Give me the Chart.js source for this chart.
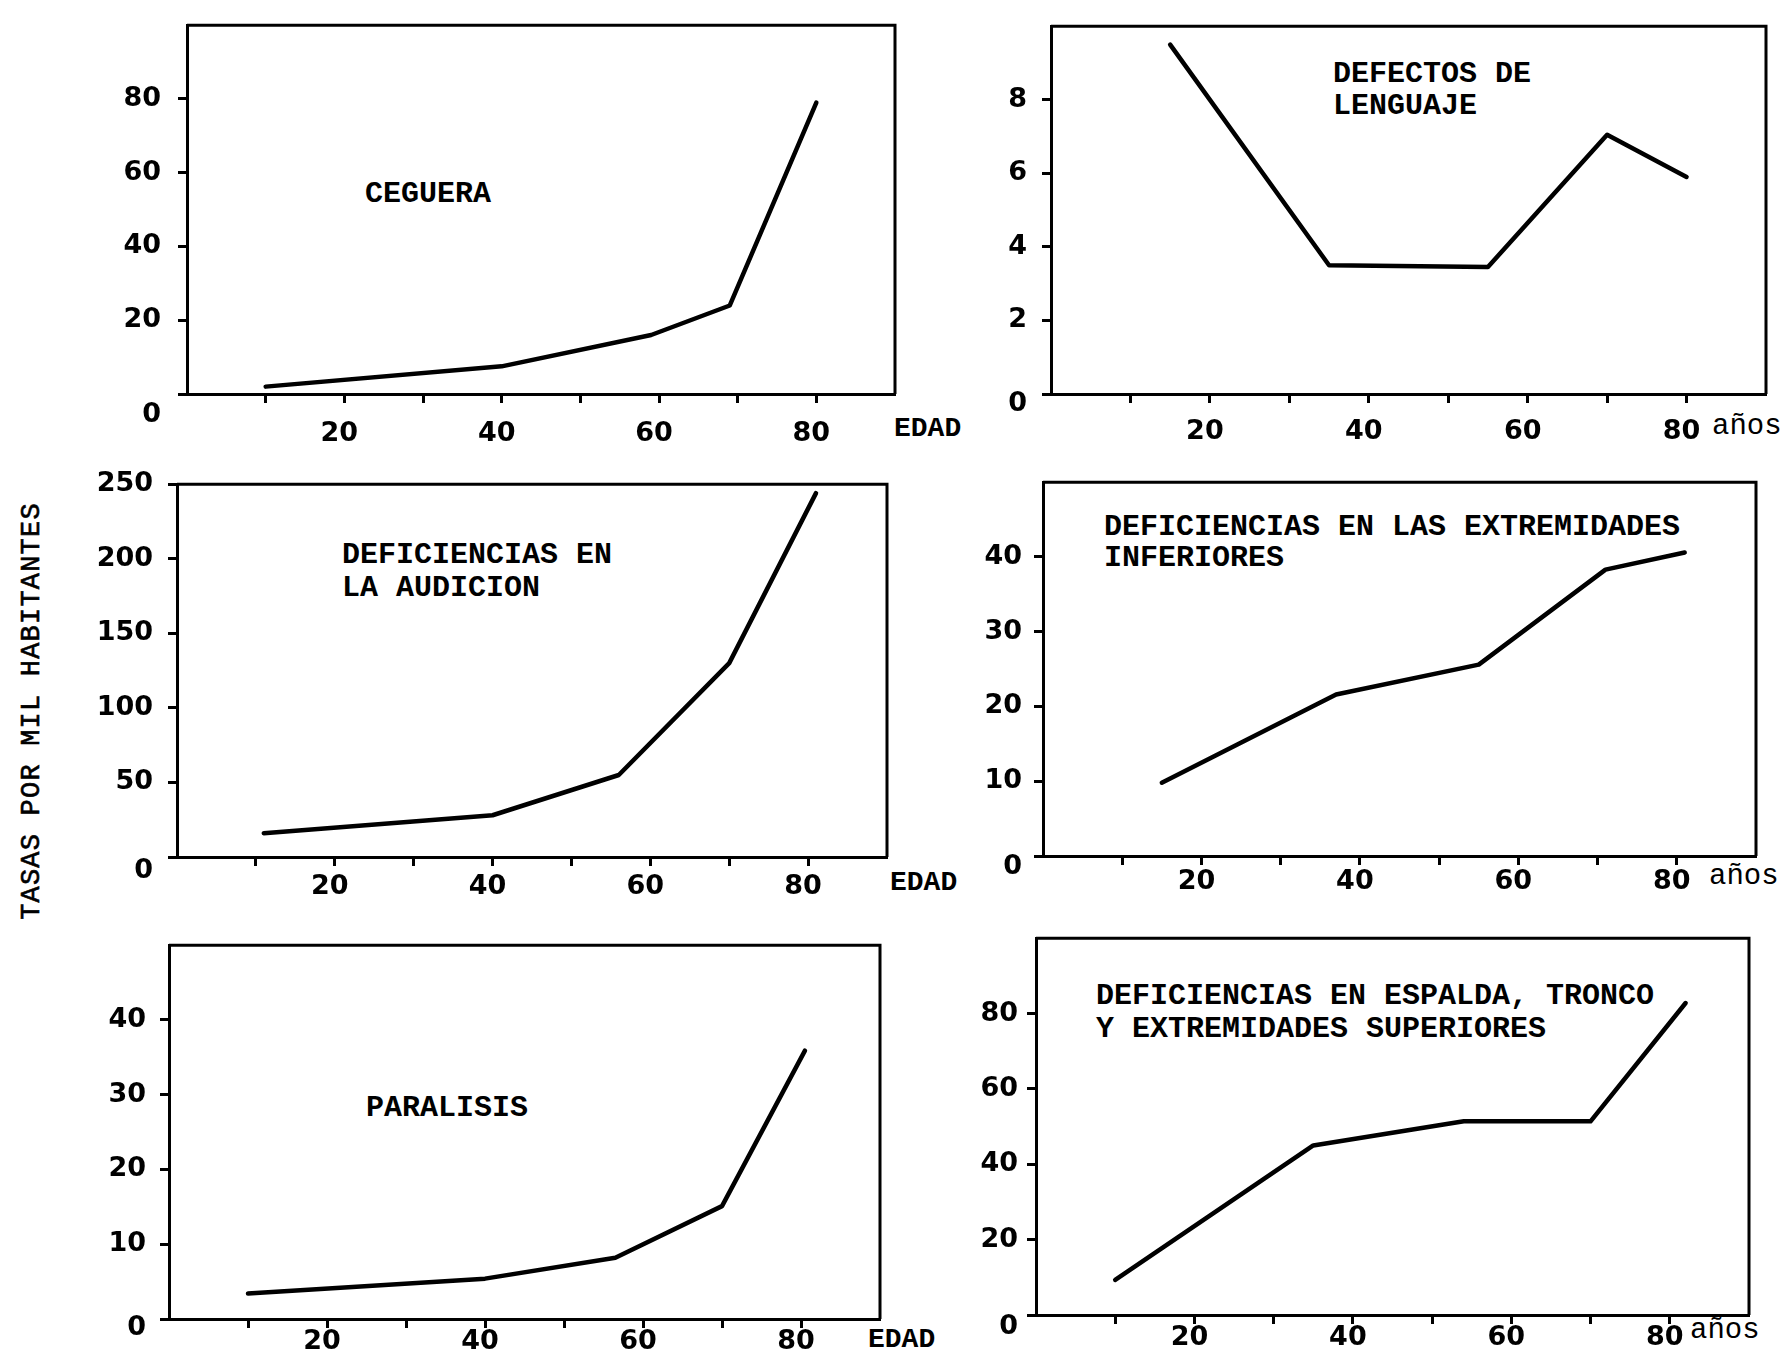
<!DOCTYPE html>
<html>
<head>
<meta charset="utf-8">
<script src="https://cdn.jsdelivr.net/npm/chart.js@4.4.0/dist/chart.umd.min.js"></script>
<style>
  body { margin: 0; background: #fff; width: 1790px; height: 1358px; position: relative; overflow: hidden; }
  canvas { position: absolute; }
  .ttl { position: absolute; font: bold 30px 'Liberation Mono', 'DejaVu Sans Mono', monospace; line-height: 33px; white-space: pre; color: #000; }
  .unit { position: absolute; font: bold 28px 'Liberation Mono', monospace; line-height: 28px; color: #000; }
  .unit.n { font-weight: normal; font-size: 29px; }
  #ytitle { position: absolute; left: 32px; top: 711px; transform: translate(-50%, -50%) rotate(-90deg);
            font: 27px 'Liberation Mono', monospace; letter-spacing: 1.2px; white-space: nowrap; color: #000;
            -webkit-text-stroke: 0.6px #000; }
</style>
</head>
<body>
<div id="ytitle">TASAS POR MIL HABITANTES</div>

<div class="ttl" style="left:365px; top:178px">CEGUERA</div>
<div class="ttl" style="left:1333px; top:58px; line-height:32px">DEFECTOS DE
LENGUAJE</div>
<div class="ttl" style="left:342px; top:539px">DEFICIENCIAS EN
LA AUDICION</div>
<div class="ttl" style="left:1104px; top:512px; line-height:31px">DEFICIENCIAS EN LAS EXTREMIDADES
INFERIORES</div>
<div class="ttl" style="left:366px; top:1092px">PARALISIS</div>
<div class="ttl" style="left:1096px; top:980px">DEFICIENCIAS EN ESPALDA, TRONCO
Y EXTREMIDADES SUPERIORES</div>

<div class="unit" style="left:894px; top:415px">EDAD</div>
<div class="unit n" style="left:1712px; top:413px">años</div>
<div class="unit" style="left:890px; top:869px">EDAD</div>
<div class="unit n" style="left:1709px; top:863px">años</div>
<div class="unit" style="left:868px; top:1326px">EDAD</div>
<div class="unit n" style="left:1690px; top:1317px">años</div>

<script>
// ages shown on the x axis
const xTicks = [20, 40, 60, 80];

// tasas por mil habitantes, por grupo de edad
const cegueraAges = [10, 40, 59, 69, 80];
const cegueraRates = [2, 7.5, 16, 24, 79];

const lenguajeAges = [15, 35, 55, 70, 80];
const lenguajeRates = [9.5, 3.5, 3.45, 7.05, 5.9];

const audicionAges = [11, 40, 56, 70, 81];
const audicionRates = [16, 28, 55, 130, 244];

const inferioresAges = [15, 37, 55, 71, 81];
const inferioresRates = [9.8, 21.6, 25.6, 38.3, 40.6];

const paralisisAges = [10, 40, 56.5, 70, 80.5];
const paralisisRates = [3.4, 5.4, 8.2, 15.1, 35.9];

const espaldaAges = [10, 35, 54, 70, 82];
const espaldaRates = [9.3, 45, 51.4, 51.4, 82.8];

const panels = [
    { ages: cegueraAges,    rates: cegueraRates,    L: 187,  T: 12,  R: 895,  B: 394,  yMax: 100, yStep: 20, topLabel: false, yPad: 17, xPad: 15, zeroDy: 21 },
    { ages: lenguajeAges,   rates: lenguajeRates,   L: 1051, T: 15,  R: 1766, B: 394,  yMax: 10,  yStep: 2,  topLabel: false, yPad: 15, xPad: 13, zeroDy: 10 },
    { ages: audicionAges,   rates: audicionRates,   L: 177,  T: 473, R: 887,  B: 857,  yMax: 250, yStep: 50, topLabel: true,  yPad: 15, xPad: 5,  zeroDy: 14 },
    { ages: inferioresAges, rates: inferioresRates, L: 1043, T: 474, R: 1756, B: 856,  yMax: 50,  yStep: 10, topLabel: false, yPad: 12, xPad: 1,  zeroDy: 11 },
    { ages: paralisisAges,  rates: paralisisRates,  L: 169,  T: 935, R: 880,  B: 1319, yMax: 50,  yStep: 10, topLabel: false, yPad: 14, xPad: -2, zeroDy: 9 },
    { ages: espaldaAges,    rates: espaldaRates,    L: 1036, T: 933, R: 1749, B: 1315, yMax: 100, yStep: 20, topLabel: false, yPad: 9,  xPad: -2, zeroDy: 12 }
];

const YW = 110, PT = 20, PR = 20, XH = 70, TL = 9;
const tickFont = { family: "'DejaVu Sans'", weight: 'bold', size: 27 };

// top/right frame lines and the "0" label that sits a bit under the axis
const framePlugin = {
    id: 'frame',
    afterDraw(chart, args, opts) {
        const { ctx, chartArea: a, scales } = chart;
        ctx.save();
        ctx.strokeStyle = '#000';
        ctx.lineWidth = 3;
        ctx.beginPath();
        ctx.moveTo(a.left, a.top);
        ctx.lineTo(a.right, a.top);
        ctx.lineTo(a.right, a.bottom);
        ctx.stroke();
        ctx.font = "bold 27px 'DejaVu Sans'";
        ctx.fillStyle = '#000';
        ctx.textAlign = 'right';
        ctx.textBaseline = 'middle';
        ctx.fillText('0', a.left - TL - opts.yPad, scales.y.getPixelForValue(0) + opts.zeroDy);
        ctx.restore();
    }
};

panels.forEach(p => {
    const cv = document.createElement('canvas');
    const w = (p.R - p.L) + YW + PR, h = (p.B - p.T) + PT + XH;
    cv.width = w; cv.height = h;
    cv.style.left = (p.L - YW) + 'px';
    cv.style.top = (p.T - PT) + 'px';
    document.body.appendChild(cv);

    new Chart(cv, {
        type: 'line',
        data: {
            datasets: [{
                data: p.ages.map((a, i) => ({ x: a, y: p.rates[i] })),
                borderColor: '#000', borderWidth: 4.5, pointRadius: 0,
                borderCapStyle: 'round', borderJoinStyle: 'round', tension: 0, fill: false
            }]
        },
        options: {
            responsive: false, animation: false,
            layout: { padding: { left: 0, top: PT, right: PR, bottom: 0 } },
            plugins: { legend: { display: false }, tooltip: { enabled: false }, frame: { yPad: p.yPad, zeroDy: p.zeroDy } },
            scales: {
                x: {
                    type: 'linear', min: 0, max: 90,
                    afterFit: s => { s.height = XH; },
                    ticks: {
                        stepSize: 10, autoSkip: false, maxRotation: 0, padding: p.xPad, labelOffset: -5,
                        color: '#000', font: tickFont,
                        callback: v => xTicks.includes(v) ? String(v) : ''
                    },
                    grid: {
                        drawOnChartArea: false, drawTicks: true, tickLength: TL, tickWidth: 3,
                        tickColor: c => (c.tick && c.tick.value > 0 && c.tick.value < 90) ? '#000' : 'rgba(0,0,0,0)'
                    },
                    border: { display: true, color: '#000', width: 3 }
                },
                y: {
                    min: 0, max: p.yMax,
                    afterFit: s => { s.width = YW; },
                    ticks: {
                        stepSize: p.yStep, padding: p.yPad, color: '#000', font: tickFont,
                        callback: v => (v === 0 || (v === p.yMax && !p.topLabel)) ? '' : String(v)
                    },
                    grid: {
                        drawOnChartArea: false, drawTicks: true, tickLength: TL, tickWidth: 3,
                        tickColor: c => (c.tick && c.tick.value === p.yMax && !p.topLabel) ? 'rgba(0,0,0,0)' : '#000'
                    },
                    border: { display: true, color: '#000', width: 3 }
                }
            }
        },
        plugins: [framePlugin]
    });
});
</script>
</body>
</html>
